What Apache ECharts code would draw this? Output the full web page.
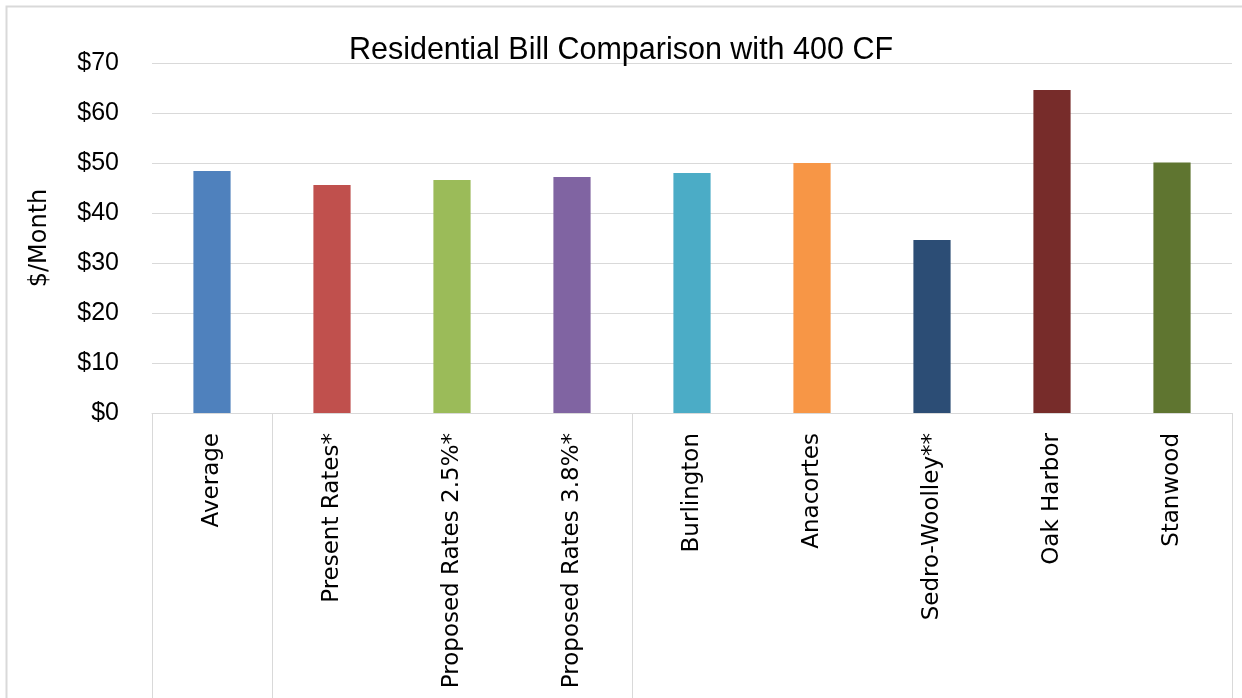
<!DOCTYPE html>
<html>
<head>
<meta charset="utf-8">
<script src="https://cdn.jsdelivr.net/npm/echarts@6/dist/echarts.min.js"></script>
<style>
html,body{margin:0;padding:0;background:#fff;}
#chart{width:1242px;height:698px;}
</style>
</head>
<body>
<div id="chart"></div>
<script>
const categories = ["Average", "Present Rates*", "Proposed Rates 2.5%*", "Proposed Rates 3.8%*", "Burlington", "Anacortes", "Sedro-Woolley**", "Oak Harbor", "Stanwood"];
const values = [48.4, 45.6, 46.6, 47.2, 48.0, 50.0, 34.6, 64.6, 50.1];
const barColors = ["#4f81bd", "#c0504d", "#9bbb59", "#8064a2", "#4bacc6", "#f79646", "#2c4d75", "#772c2a", "#5f7530"];
const groupBoundaries = [0, 1, 4, 9];
const yTicks = [0, 10, 20, 30, 40, 50, 60, 70];

const chart = echarts.init(document.getElementById('chart'));
chart.setOption({
  backgroundColor: '#fff',
  animation: false,
  title: {
    text: 'Residential Bill Comparison with 400 CF',
    left: 'center',
    top: 30,
    textStyle: { fontFamily: 'Liberation Sans', fontSize: 30.5, fontWeight: 'normal', color: '#000' }
  },
  graphic: [{
    type: 'rect', left: 4, top: 4, shape: { width: 1250, height: 710 },
    style: { fill: 'none', stroke: '#d9d9d9', lineWidth: 2 }, silent: true
  }],
  grid: { left: 152, right: 10, top: 63, bottom: 285 },
  xAxis: {
    type: 'category',
    data: categories,
    axisLine: { lineStyle: { color: '#d9d9d9', width: 1 } },
    axisTick: {
      show: true,
      length: 300,
      interval: function (i) { return groupBoundaries.indexOf(i) >= 0; },
      lineStyle: { color: '#d9d9d9', width: 1 }
    },
    axisLabel: {
      rotate: 90, margin: 20, interval: 0,
      fontFamily: 'DejaVu Sans', fontSize: 23, color: '#000'
    }
  },
  yAxis: {
    type: 'value',
    min: 0, max: 70, interval: 10,
    name: '$/Month',
    nameLocation: 'middle',
    nameGap: 100,
    nameRotate: 90,
    nameTextStyle: { fontFamily: 'DejaVu Sans', fontSize: 24, color: '#000' },
    axisLine: { show: false },
    axisTick: { show: false },
    splitLine: { lineStyle: { color: '#d9d9d9', width: 1 } },
    axisLabel: {
      margin: 33,
      fontFamily: 'Liberation Sans', fontSize: 25, color: '#000',
      formatter: function (v) { return yTicks.indexOf(v) >= 0 ? '$' + v : ''; }
    }
  },
  series: [{
    type: 'bar',
    barWidth: '31%',
    data: values.map(function (v, i) { return { value: v, itemStyle: { color: barColors[i] } }; })
  }]
});
</script>
</body>
</html>
